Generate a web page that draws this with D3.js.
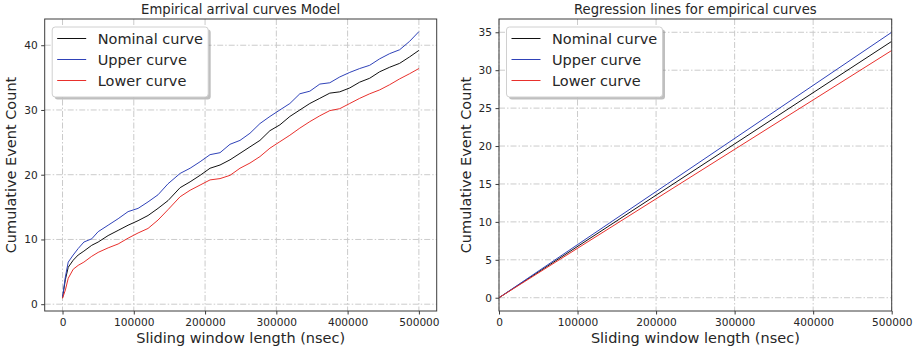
<!DOCTYPE html>
<html>
<head>
<meta charset="utf-8">
<script src="https://cdn.jsdelivr.net/npm/d3@7"></script>
<style>
  body { margin: 0; background: #fff; }
  svg { display: block; font-family: 'DejaVu Sans', sans-serif; }
</style>
</head>
<body>
<div id="chart"></div>
<script>
// sliding window lengths (nsec) sampled along the empirical curves
var windowLen = [0, 4000, 8000, 15000, 22000, 30000, 41000, 50000, 64000, 78000,
    92000, 106000, 120000, 134000, 148000, 165000, 179000, 193000, 207000, 221000,
    235000, 249000, 263000, 277000, 291000, 305000, 319000, 333000, 347000, 361000,
    375000, 389000, 403000, 417000, 431000, 445000, 459000, 473000, 487000, 500000];

var nominalCurve = [1.0, 3.8, 5.7, 6.8, 7.6, 8.2, 9.1, 9.6, 10.6, 11.4,
    12.2, 12.9, 13.7, 14.8, 16.0, 18.0, 18.9, 19.9, 21.0, 21.5,
    22.3, 23.3, 24.3, 25.3, 26.8, 27.7, 29.0, 30.0, 31.0, 31.8,
    32.6, 32.8, 33.4, 34.3, 34.9, 35.9, 36.6, 37.2, 38.2, 39.2];

var upperCurve = [1.1, 4.2, 6.5, 7.6, 8.6, 9.6, 10.1, 11.2, 12.2, 13.2,
    14.3, 14.8, 15.8, 16.9, 18.6, 20.2, 21.0, 22.0, 23.1, 23.4,
    24.7, 25.3, 26.4, 27.9, 29.0, 30.0, 31.0, 32.5, 32.9, 34.0,
    34.2, 35.1, 35.8, 36.4, 36.9, 37.9, 38.7, 39.3, 40.6, 42.1];

var lowerCurve = [0.9, 2.2, 4.0, 5.4, 6.0, 6.5, 7.4, 8.0, 8.7, 9.3,
    10.2, 11.0, 11.7, 13.0, 14.6, 16.6, 17.6, 18.4, 19.2, 19.4,
    19.9, 21.0, 21.8, 22.8, 24.1, 25.1, 26.1, 27.2, 28.2, 29.1,
    29.9, 30.2, 31.0, 31.8, 32.5, 33.1, 33.9, 34.8, 35.6, 36.4];

// regression lines: end points
var regX = [0, 500000];
var regNominal = [0, 33.8];
var regUpper = [0, 35.0];
var regLower = [0, 32.6];

var seriesNames = ['Nominal curve', 'Upper curve', 'Lower curve'];
var seriesColors = ['#111111', '#2f42b8', '#e8302c'];

var xTicks = [0, 100000, 200000, 300000, 400000, 500000];
var yTicksLeft = [0, 10, 20, 30, 40];
var yTicksRight = [0, 5, 10, 15, 20, 25, 30, 35];

var svg = d3.select('#chart').append('svg')
    .attr('width', 917)
    .attr('height', 355);

function zipXY(xs, ys) {
    return xs.map(function(x, i) { return [x, ys[i]]; });
}

function drawPanel(opts) {
    var x = d3.scaleLinear().domain(opts.xDomain).range([opts.left, opts.right]);
    var y = d3.scaleLinear().domain(opts.yDomain).range([opts.bottom, opts.top]);

    var g = svg.append('g');

    // grid
    g.selectAll('.vgrid').data(xTicks).enter().append('line')
        .attr('x1', function(d) { return x(d); })
        .attr('x2', function(d) { return x(d); })
        .attr('y1', opts.top)
        .attr('y2', opts.bottom)
        .attr('stroke', '#cbcbcb')
        .attr('stroke-width', 1)
        .attr('stroke-dasharray', '6,2,1.5,2');
    g.selectAll('.hgrid').data(opts.yTicks).enter().append('line')
        .attr('x1', opts.left)
        .attr('x2', opts.right)
        .attr('y1', function(d) { return y(d); })
        .attr('y2', function(d) { return y(d); })
        .attr('stroke', '#cbcbcb')
        .attr('stroke-width', 1)
        .attr('stroke-dasharray', '6,2,1.5,2');

    var clipId = 'clip' + opts.id;
    svg.append('clipPath').attr('id', clipId).append('rect')
        .attr('x', opts.left)
        .attr('y', opts.top)
        .attr('width', opts.right - opts.left)
        .attr('height', opts.bottom - opts.top);

    var line = d3.line()
        .x(function(d) { return x(d[0]); })
        .y(function(d) { return y(d[1]); });

    opts.series.forEach(function(s, i) {
        g.append('path')
            .datum(zipXY(opts.xs, s))
            .attr('clip-path', 'url(#' + clipId + ')')
            .attr('fill', 'none')
            .attr('stroke', seriesColors[i])
            .attr('stroke-width', 1)
            .attr('d', line);
    });

    // spines
    g.append('rect')
        .attr('x', opts.left)
        .attr('y', opts.top)
        .attr('width', opts.right - opts.left)
        .attr('height', opts.bottom - opts.top)
        .attr('fill', 'none')
        .attr('stroke', '#3c3c3c')
        .attr('stroke-width', 1);

    // axes
    var xAxis = d3.axisBottom(x).tickValues(xTicks).tickFormat(d3.format('d'))
        .tickSizeInner(3.5).tickSizeOuter(0).tickPadding(3.5);
    var xg = g.append('g')
        .attr('transform', 'translate(0,' + opts.bottom + ')')
        .call(xAxis);
    var yAxis = d3.axisLeft(y).tickValues(opts.yTicks).tickFormat(d3.format('d'))
        .tickSizeInner(3.5).tickSizeOuter(0).tickPadding(3.5);
    var yg = g.append('g')
        .attr('transform', 'translate(' + opts.left + ',0)')
        .call(yAxis);
    [xg, yg].forEach(function(ax) {
        ax.select('.domain').remove();
        ax.selectAll('line').attr('stroke', '#3c3c3c').attr('stroke-width', 1);
        ax.selectAll('text')
            .attr('fill', '#262626')
            .style('font-size', '10.6px')
            .style('font-family', 'DejaVu Sans');
    });

    var cx = (opts.left + opts.right) / 2;
    g.append('text')
        .attr('x', cx)
        .attr('y', 13.5)
        .attr('text-anchor', 'middle')
        .attr('fill', '#262626')
        .style('font-size', '13.2px')
        .text(opts.title);
    g.append('text')
        .attr('x', cx)
        .attr('y', 343)
        .attr('text-anchor', 'middle')
        .attr('fill', '#262626')
        .style('font-size', '14.5px')
        .text('Sliding window length (nsec)');
    g.append('text')
        .attr('transform', 'translate(' + opts.ylabelX + ',' + ((opts.top + opts.bottom) / 2) + ') rotate(-90)')
        .attr('text-anchor', 'middle')
        .attr('fill', '#262626')
        .style('font-size', '14.5px')
        .text('Cumulative Event Count');

    // legend
    var lx = opts.left + 7.5, ly = 27, lw = 156, lh = 70;
    g.append('rect')
        .attr('x', lx + 2.5)
        .attr('y', ly + 2.5)
        .attr('width', lw)
        .attr('height', lh)
        .attr('rx', 3)
        .attr('fill', '#808080')
        .attr('fill-opacity', 0.5);
    g.append('rect')
        .attr('x', lx)
        .attr('y', ly)
        .attr('width', lw)
        .attr('height', lh)
        .attr('rx', 3)
        .attr('fill', '#fff')
        .attr('stroke', '#d0d0d0')
        .attr('stroke-width', 1);
    seriesNames.forEach(function(name, i) {
        var yy = ly + 11.5 + i * 21;
        g.append('line')
            .attr('x1', lx + 5)
            .attr('x2', lx + 34)
            .attr('y1', yy)
            .attr('y2', yy)
            .attr('stroke', seriesColors[i])
            .attr('stroke-width', 1);
        g.append('text')
            .attr('x', lx + 45.5)
            .attr('y', yy + 5.5)
            .attr('fill', '#262626')
            .style('font-size', '14.5px')
            .text(name);
    });
}

drawPanel({
    id: 'L',
    left: 44.7, right: 436.7, top: 19, bottom: 311,
    xDomain: [-25000, 525000], yDomain: [-1.05, 44.05],
    yTicks: yTicksLeft,
    xs: windowLen,
    series: [nominalCurve, upperCurve, lowerCurve],
    title: 'Empirical arrival curves Model',
    ylabelX: 16
});

drawPanel({
    id: 'R',
    left: 499, right: 891.7, top: 19, bottom: 311,
    xDomain: [0, 500000], yDomain: [-1.75, 36.75],
    yTicks: yTicksRight,
    xs: regX,
    series: [regNominal, regUpper, regLower],
    title: 'Regression lines for empirical curves',
    ylabelX: 471
});
</script>
</body>
</html>
